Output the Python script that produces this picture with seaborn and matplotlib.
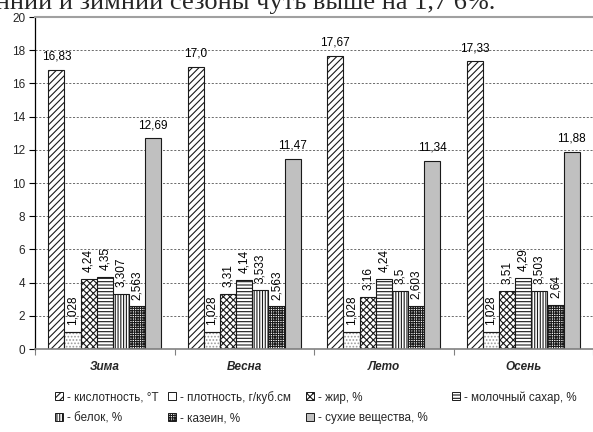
import matplotlib
matplotlib.use("Agg")
import matplotlib.pyplot as plt
import matplotlib.patches as mpatches
from matplotlib.ticker import FixedLocator
import seaborn as sns
import pandas as pd

# ---- data ----
seasons = ['Зима', 'Весна', 'Лето', 'Осень']
params = ['- кислотность, °T', '- плотность, г/куб.см', '- жир, %',
          '- молочный сахар, %', '- белок, %', '- казеин, %',
          '- сухие вещества, %']
acidity = [16.83, 17.0, 17.67, 17.33]
density = [1.028, 1.028, 1.028, 1.028]
fat = [4.24, 3.31, 3.16, 3.51]
sugar = [4.35, 4.14, 4.24, 4.29]
protein = [3.307, 3.533, 3.5, 3.503]
casein = [2.563, 2.563, 2.603, 2.64]
solids = [12.69, 11.47, 11.34, 11.88]
y_ticks = [0, 2, 4, 6, 8, 10, 12, 14, 16, 18, 20]
header = 'енний и зимний сезоны чуть выше на 1,7 6%.'

series = [acidity, density, fat, sugar, protein, casein, solids]
rows = []
for p, vals in zip(params, series):
    for s, v in zip(seasons, vals):
        rows.append({'season': s, 'param': p, 'value': v})
df = pd.DataFrame(rows)

# ---- style ----
sns.set_style('white')
plt.rcParams['font.family'] = ['Liberation Sans', 'DejaVu Sans']
plt.rcParams['hatch.linewidth'] = 0.8

faces = ['white', 'white', 'white', 'white', 'white', 'white', '#c0c0c0']
hatches = ['/////', '.....', 'xxxxx', '-----', '||||||', '+++++++', None]
edge = '#1a1a1a'

W, H = 593, 432
fig = plt.figure(figsize=(W / 100, H / 100), dpi=100)
ax = fig.add_axes([35 / W, 1 - 349 / H, 558 / W, 332 / H])

sns.barplot(data=df, x='season', y='value', hue='param', order=seasons,
            hue_order=params, palette=faces, width=0.81, gap=0,
            legend=False, ax=ax, edgecolor=edge, linewidth=0.8,
            saturation=1, err_kws={'linewidth': 0})

for i, cont in enumerate(ax.containers):
    for p in cont.patches:
        p.set_facecolor(faces[i])
        p.set_linewidth(0.8)
        if i == 1:
            p.set_edgecolor('#9a9a9a')
            p.set_hatch(hatches[i])
            ax.add_patch(mpatches.Rectangle(p.get_xy(), p.get_width(), p.get_height(),
                                            fill=False, edgecolor=edge, linewidth=0.8,
                                            zorder=p.get_zorder() + 0.1))
        else:
            p.set_edgecolor(edge)
            if hatches[i]:
                p.set_hatch(hatches[i])
    labels = [str(v).replace('.', ',') for v in series[i]]
    rot = 0 if i in (0, 6) else 90
    ax.bar_label(cont, labels=labels, rotation=rot, padding=5, fontsize=8.5,
                 color='black')

ax.set_ylim(0, 20)
ax.set_xlim(-0.5, 3.5)
ax.set_yticks(y_ticks)
ax.set_yticklabels([str(t) for t in y_ticks])
ax.set_xlabel('')
ax.set_ylabel('')
ax.yaxis.grid(True, linestyle=(0, (2.5, 2)), color='#555555', linewidth=0.6)
ax.set_axisbelow(True)

ax.tick_params(axis='y', which='major', left=True, length=4, width=0.8,
               color='black', labelsize=8.5, pad=3)
ax.tick_params(axis='x', which='major', length=0, pad=9)
ax.xaxis.set_minor_locator(FixedLocator([-0.5, 0.5, 1.5, 2.5, 3.5]))
ax.tick_params(axis='x', which='minor', bottom=True, length=4, width=0.8,
               color='#808080')
for lab in ax.get_xticklabels():
    lab.set_fontweight('bold')
    lab.set_fontstyle('italic')
    lab.set_fontsize(8.5)

ax.spines['left'].set_color('black')
ax.spines['left'].set_linewidth(0.9)
ax.spines['bottom'].set_color('#808080')
ax.spines['bottom'].set_linewidth(1.2)
ax.spines['top'].set_visible(True)
ax.spines['top'].set_color('#a0a0a0')
ax.spines['top'].set_linewidth(1.5)
ax.spines['right'].set_visible(False)

# legend: keys + labels on a fixed 2x4 grid
key_style = []
for i in range(len(params)):
    if i == 1:
        key_style.append(dict(facecolor='white', edgecolor=edge, hatch=None))
    else:
        key_style.append(dict(facecolor=faces[i], edgecolor=edge, hatch=hatches[i]))
grid_pos = [(0, 0), (0, 1), (0, 2), (0, 3), (1, 0), (1, 1), (1, 2)]
col_x = [55, 168, 306, 452]
row_y = [396, 417]
key = 8
for i, (r, c) in enumerate(grid_pos):
    x0, yc = col_x[c], row_y[r]
    fig.add_artist(mpatches.Rectangle((x0 / W, 1 - (yc + key / 2) / H),
                                      key / W, key / H, transform=fig.transFigure,
                                      linewidth=0.7, **key_style[i]))
    fig.text((x0 + key + 4) / W, 1 - yc / H, params[i], ha='left',
             va='center_baseline', fontsize=8.4)

fig.text(495 / W, 1 - 9 / H, header, ha='right', va='baseline',
         fontsize=19, family=['Liberation Serif', 'DejaVu Serif'])

fig.savefig('out.png', dpi=100)
